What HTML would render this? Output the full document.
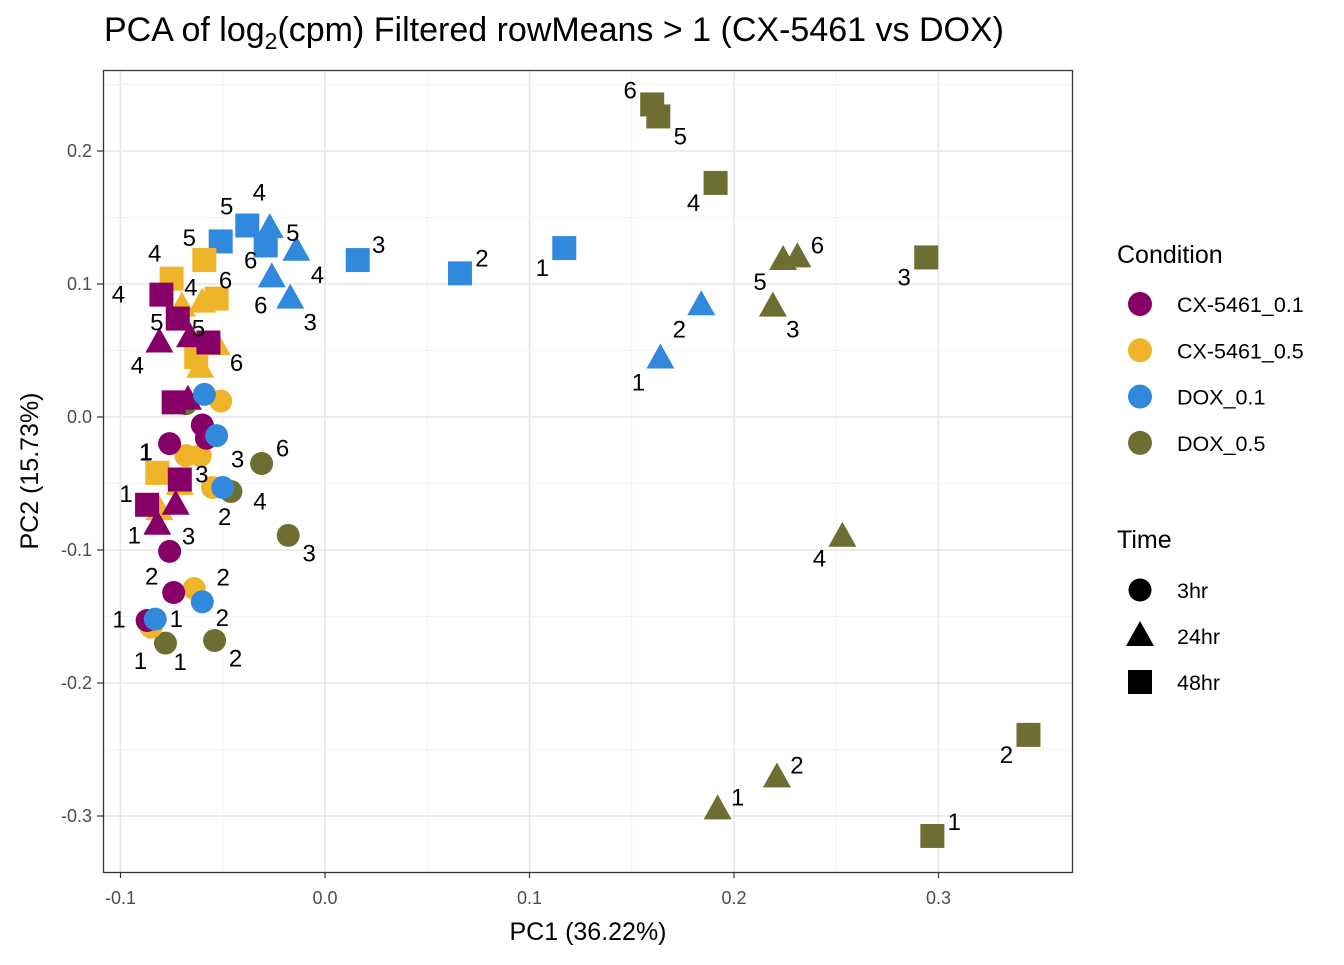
<!DOCTYPE html>
<html><head><meta charset="utf-8"><style>
body{margin:0;background:#fff;font-family:"Liberation Sans",Arial,sans-serif}
svg text{font-family:"Liberation Sans",Arial,sans-serif}
</style></head><body>
<svg id="chart" width="1344" height="960" viewBox="0 0 1344 960" xmlns="http://www.w3.org/2000/svg">
<text x="104" y="41" font-size="34" fill="#000">PCA of log<tspan font-size="23" dy="8">2</tspan><tspan dy="-8">(cpm) Filtered rowMeans &gt; 1 (CX-5461 vs DOX)</tspan></text>
<g id="grid"></g>
<g id="marks"></g>
<g id="labels"></g>
<rect x="103.5" y="70.5" width="969" height="802" fill="none" stroke="#333" stroke-width="1.3"/>
<g id="axes"></g>
<text x="588" y="940" font-size="25" text-anchor="middle">PC1 (36.22%)</text>
<text transform="translate(38,471) rotate(-90)" font-size="25" text-anchor="middle">PC2 (15.73%)</text>
<g id="legend"></g>
</svg>
<script>
const xTicks=[-0.1,0,0.1,0.2,0.3];
const xTickLabels=["-0.1","0.0","0.1","0.2","0.3"];
const yTicks=[0.2,0.1,0,-0.1,-0.2,-0.3];
const yTickLabels=["0.2","0.1","0.0","-0.1","-0.2","-0.3"];
const conditions=["CX-5461_0.1","CX-5461_0.5","DOX_0.1","DOX_0.5"];
const times=["3hr","24hr","48hr"];
// DOX_0.5
const dox05_sq_x=[0.160,0.163,0.191,0.294,0.344,0.297];
const dox05_sq_y=[0.235,0.226,0.176,0.120,-0.239,-0.315];
const dox05_sq_lab=["6","5","4","3","2","1"];
const dox05_tri_x=[0.231,0.224,0.219,0.253,0.221,0.192];
const dox05_tri_y=[0.120,0.118,0.083,-0.090,-0.271,-0.295];
const dox05_tri_lab=["6","5","3","4","2","1"];
const dox05_cir_x=[-0.031,-0.046,-0.018,-0.078,-0.054,-0.068];
const dox05_cir_y=[-0.035,-0.056,-0.089,-0.170,-0.168,0.010];
const dox05_cir_lab=["6","4","3","1","2",""];
// DOX_0.1
const dox01_sq_x=[-0.051,-0.038,-0.029,0.016,0.066,0.117];
const dox01_sq_y=[0.132,0.144,0.129,0.118,0.108,0.127];
const dox01_sq_lab=["5","4","6","3","2","1"];
const dox01_tri_x=[-0.027,-0.014,-0.026,-0.017,0.184,0.164];
const dox01_tri_y=[0.142,0.125,0.105,0.089,0.084,0.044];
const dox01_tri_lab=["5","4","6","3","2","1"];
const dox01_cir_x=[-0.059,-0.053,-0.050,-0.060,-0.083];
const dox01_cir_y=[0.017,-0.014,-0.053,-0.139,-0.152];
const dox01_cir_lab=["","3","","2","1"];
// CX-5461_0.5
const cx05_sq_x=[-0.075,-0.059,-0.053,-0.063,-0.082];
const cx05_sq_y=[0.104,0.118,0.089,0.045,-0.042];
const cx05_sq_lab=["4","5","6","","1"];
const cx05_tri_x=[-0.070,-0.060,-0.053,-0.061,-0.081,-0.071];
const cx05_tri_y=[0.083,0.086,0.054,0.037,-0.070,-0.051];
const cx05_tri_lab=["4","","6","","",""];
const cx05_cir_x=[-0.051,-0.068,-0.061,-0.055,-0.064,-0.085];
const cx05_cir_y=[0.012,-0.029,-0.029,-0.053,-0.129,-0.158];
const cx05_cir_lab=["","","","","2","1"];
// CX-5461_0.1
const cx01_sq_x=[-0.080,-0.072,-0.057,-0.074,-0.071,-0.087];
const cx01_sq_y=[0.092,0.074,0.056,0.011,-0.047,-0.066];
const cx01_sq_lab=["4","5","5","","3","1"];
const cx01_tri_x=[-0.081,-0.066,-0.067,-0.073,-0.082];
const cx01_tri_y=[0.056,0.060,0.013,-0.066,-0.081];
const cx01_tri_lab=["4","","","2","1"];
const cx01_cir_x=[-0.076,-0.060,-0.058,-0.076,-0.074,-0.087];
const cx01_cir_y=[-0.020,-0.006,-0.016,-0.101,-0.132,-0.153];
const cx01_cir_lab=["1","","","3","2","1"];

// label offsets (style, px)
const offs={
 dox05_sq:[[-22,-14],[22,20],[-22,20],[-22,20],[-22,20],[22,-14]],
 dox05_tri:[[20,-12],[-23,22],[20,23],[-23,22],[20,-12],[20,-12]],
 dox05_cir:[[21,-15],[29,10],[21,18],[-25,18],[21,18],[0,0]],
 dox01_sq:[[6,-35],[12,-33],[-15,15],[21,-15],[22,-15],[-22,20]],
 dox01_tri:[[23,5],[21,24],[-11,28],[20,24],[-22,24],[-22,24]],
 dox01_cir:[[0,0],[21,24],[0,0],[20,16],[21,0]],
 cx05_sq:[[-17,-25],[-15,-22],[9,-18],[0,0],[-11,-21]],
 cx05_tri:[[9,-19],[0,0],[20,18],[0,0],[0,0],[0,0]],
 cx05_cir:[[0,0],[0,0],[0,0],[0,0],[29,-11],[29,35]],
 cx01_sq:[[-43,0],[-21,4],[-10,-14],[0,0],[22,-5],[-21,-11]],
 cx01_tri:[[-22,23],[0,0],[0,0],[49,12],[-23,11]],
 cx01_cir:[[-24,9],[0,0],[0,0],[19,-15],[-22,-16],[-28,-1]]
};
const cols={"CX-5461_0.1":"#870068","CX-5461_0.5":"#F0B42A","DOX_0.1":"#3189DD","DOX_0.5":"#6E6E32"};
const NS="http://www.w3.org/2000/svg";
const X=v=>325+v*2045, Y=v=>417-v*1330;
function mk(tag,attrs,parent){const e=document.createElementNS(NS,tag);for(const k in attrs)e.setAttribute(k,attrs[k]);parent.appendChild(e);return e;}
const grid=document.getElementById('grid'),axes=document.getElementById('axes');
for(let i=0;i<xTicks.length;i++){
 const x=X(xTicks[i]);
 const g=mk('line',{x1:x,x2:x,y1:70,y2:872,stroke:'#e6e6e6','stroke-width':1.5},grid);
 
 if(i<xTicks.length-1){const m=mk('line',{x1:X(xTicks[i]+0.05),x2:X(xTicks[i]+0.05),y1:70,y2:872,stroke:'#f2f2f2','stroke-width':1},grid);
 }
 mk('line',{x1:x,x2:x,y1:872,y2:878,stroke:'#333','stroke-width':1.2},axes);
 const t=mk('text',{x:x,y:904,'font-size':18,fill:'#4d4d4d','text-anchor':'middle'},axes);t.textContent=xTickLabels[i];
 
}
for(let i=0;i<yTicks.length;i++){
 const y=Y(yTicks[i]);
 const g=mk('line',{x1:103,x2:1073,y1:y,y2:y,stroke:'#e6e6e6','stroke-width':1.5},grid);
 
 const m=mk('line',{x1:103,x2:1073,y1:Y(yTicks[i]+0.05),y2:Y(yTicks[i]+0.05),stroke:'#f2f2f2','stroke-width':1},grid);
 
 mk('line',{x1:97,x2:103,y1:y,y2:y,stroke:'#333','stroke-width':1.2},axes);
 const t=mk('text',{x:92,y:y+6,'font-size':18,fill:'#4d4d4d','text-anchor':'end'},axes);t.textContent=yTickLabels[i];
 
}
function shape(kind,cx,cy,col,parent){
 if(kind==='cir')return mk('circle',{cx:cx,cy:cy,r:11.5,fill:col},parent);
 if(kind==='sq')return mk('rect',{x:cx-12,y:cy-12,width:24,height:24,fill:col},parent);
 return mk('polygon',{points:`${cx},${cy-15} ${cx+14},${cy+10} ${cx-14},${cy+10}`,fill:col},parent);
}
const marks=document.getElementById('marks'),labels=document.getElementById('labels');
const series=[
 ['DOX_0.5','sq',dox05_sq_x,dox05_sq_y,dox05_sq_lab,offs.dox05_sq],
 ['DOX_0.5','tri',dox05_tri_x,dox05_tri_y,dox05_tri_lab,offs.dox05_tri],
 ['DOX_0.5','cir',dox05_cir_x,dox05_cir_y,dox05_cir_lab,offs.dox05_cir],
 ['DOX_0.1','sq',dox01_sq_x,dox01_sq_y,dox01_sq_lab,offs.dox01_sq],
 ['DOX_0.1','tri',dox01_tri_x,dox01_tri_y,dox01_tri_lab,offs.dox01_tri],
 ['CX-5461_0.5','sq',cx05_sq_x,cx05_sq_y,cx05_sq_lab,offs.cx05_sq],
 ['CX-5461_0.5','tri',cx05_tri_x,cx05_tri_y,cx05_tri_lab,offs.cx05_tri],
 ['CX-5461_0.1','sq',cx01_sq_x,cx01_sq_y,cx01_sq_lab,offs.cx01_sq],
 ['CX-5461_0.1','tri',cx01_tri_x,cx01_tri_y,cx01_tri_lab,offs.cx01_tri],
 ['CX-5461_0.5','cir',cx05_cir_x,cx05_cir_y,cx05_cir_lab,offs.cx05_cir],
 ['CX-5461_0.1','cir',cx01_cir_x,cx01_cir_y,cx01_cir_lab,offs.cx01_cir],
 ['DOX_0.1','cir',dox01_cir_x,dox01_cir_y,dox01_cir_lab,offs.dox01_cir]
];
for(const [cond,kind,xs,ys,labs,of] of series){
 for(let i=0;i<xs.length;i++){
  const cx=X(xs[i]),cy=Y(ys[i]);
  const el=shape(kind,cx,cy,cols[cond],marks);
  
  
  if(labs[i]){
   const o=of[i]||[18,-14];
   const t=mk('text',{x:cx+o[0],y:cy+o[1]+8,'font-size':24,'text-anchor':'middle',fill:'#000'},labels);
   t.textContent=labs[i];
   
   
  }
 }
}
const lg=document.getElementById('legend');
let t=mk('text',{x:1117,y:263,'font-size':25},lg);t.textContent='Condition';

conditions.forEach((c,i)=>{const y=304+i*46.3;
 const s=mk('circle',{cx:1140,cy:y,r:12,fill:cols[c]},lg);
 
 const tx=mk('text',{x:1177,y:y+8,'font-size':21.5},lg);tx.textContent=c;
 });
t=mk('text',{x:1117,y:548,'font-size':25},lg);t.textContent='Time';

['cir','tri','sq'].forEach((k,i)=>{const y=590+i*46;
 const s=shape(k,1140,y,'#000',lg);
 
 const tx=mk('text',{x:1177,y:y+8,'font-size':21.5},lg);tx.textContent=times[i];
 });
</script>
</body></html>
